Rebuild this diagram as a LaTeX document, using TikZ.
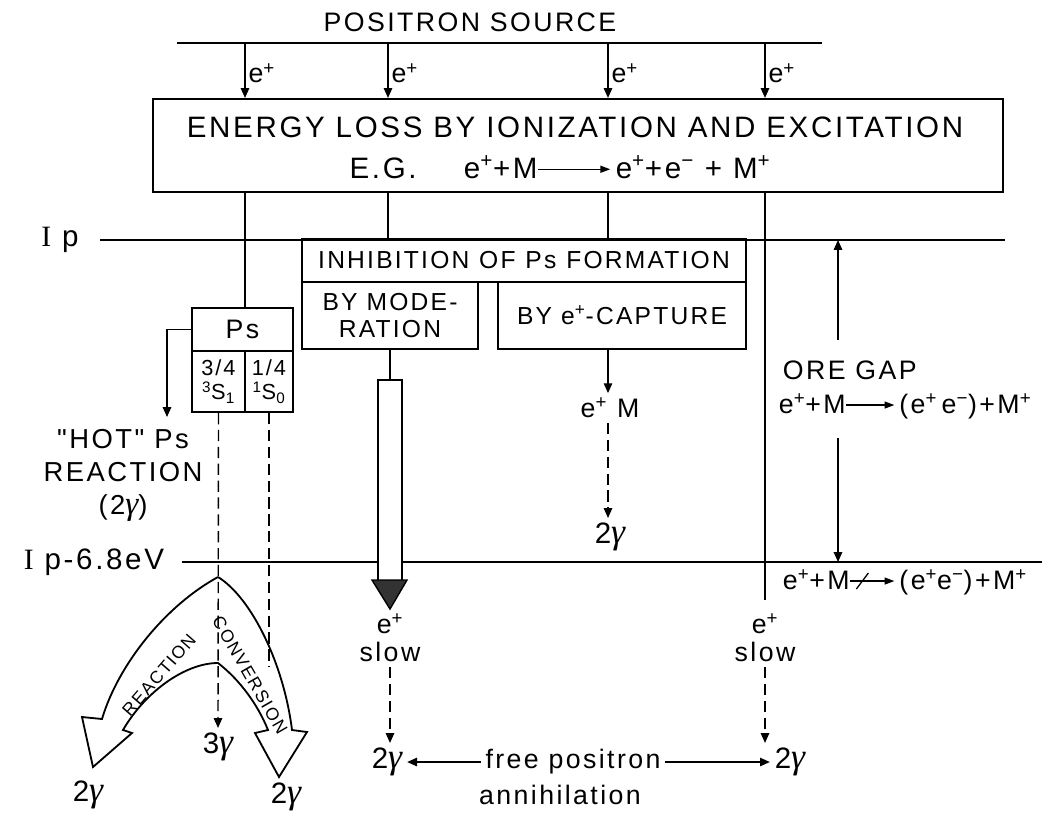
\documentclass[tikz,border=0pt]{standalone}
\usepackage{fontspec}
\setmainfont[LetterSpace=9, Ligatures=TeXOff]{Liberation Sans}
\newfontfamily\serI{Liberation Serif}
\usetikzlibrary{arrows.meta}

\newcommand\posi{e\textsuperscript{+}}
\newcommand\elec{e\textsuperscript{\char"2212}}
\newcommand\gam{{\serI\itshape\addfontfeature{Scale=1.2}γ}}
\newcommand\rxn[1][1.6]{\tikz[baseline={(0,-0.3em)},x=1cm,y=1cm]\draw[line width=0.9pt,-{Triangle[length=7pt,width=5pt]}] (0,0) -- (#1,0);}
\newcommand\norxn[1][1.2]{\tikz[baseline={(0,-0.3em)},x=1cm,y=1cm]{\draw[line width=0.9pt,-{Triangle[length=7pt,width=5pt]}] (0,0) -- (#1,0); \draw[line width=0.9pt] (0.15,-0.2) -- (0.45,0.2);}}

\begin{document}
\begin{tikzpicture}[x=0.025cm, y=-0.025cm,
    box/.style={draw, line width=1.5pt, inner sep=0pt},
    sz/.style 2 args={minimum width={#1*0.025cm}, minimum height={#2*0.025cm}},
    big/.style={font=\fontsize{21}{25}\selectfont},
    mid/.style={font=\fontsize{19}{20}\selectfont, align=center},
    sml/.style={font=\fontsize{17.5}{19.5}\selectfont, align=center},
    cell/.style={font=\fontsize{15.5}{17.5}\selectfont, align=center},
    lab/.style={font=\fontsize{12.5}{15}\selectfont, inner sep=0pt},
    arr/.style={-{Triangle[length=7pt,width=6pt]}, line width=1pt},
    ln/.style={line width=1pt},
    heavy/.style={line width=1.5pt},
    dsh/.style={dash pattern=on 8pt off 4pt}
]
\useasboundingbox (0,0) rectangle (1063,818);

% source and ionization box
\node[mid] (src) at (470,22) {POSITRON SOURCE};
\draw[heavy] (177,43) coordinate (srcL) -- (822,43) coordinate (srcR);
\node[box, sz={850}{93}] (loss) at (578,145.5) {};
\node[big] (lossA) at (575,127) {ENERGY LOSS BY IONIZATION AND EXCITATION};
\node[big] (lossB) at (560,167) {E.G.\hspace{1.6em}\posi+M\rxn[1.8]\,\posi+\elec\ + M\textsuperscript{+}};
\foreach \x/\n in {245/1,388/2,608/3,765/4}{
  \coordinate (s\n) at (\x,43);
  \draw[arr] (s\n) -- node[mid, right, pos=0.55, inner sep=2pt] {\posi} (s\n |- loss.north);
}

% energy levels
\node[big] (ip) at (60,240) {{\serI I} p};
\draw[heavy] (100,240) coordinate (ipL) -- (1005,240) coordinate (ipR);
\node[big] (ip68) at (94,562) {{\serI I} p-6.8eV};
\draw[heavy] (182,562) coordinate (ip68L) -- (1042,562) coordinate (ip68R);

% positronium
\node[box, sz={101}{43}, mid] (ps) at (242.5,329.5) {Ps};
\node[box, sz={53}{61}, cell, inner sep=0pt] (ps3) at (218.5,381.5) {3/4\\\textsuperscript{3}S\textsubscript{1}};
\node[box, sz={48}{61}, cell, inner sep=0pt] (ps1) at (269,381.5) {1/4\\\textsuperscript{1}S\textsubscript{0}};
\draw[ln] (loss.south -| s1) -- (ps.north -| s1);

\node[align=center, font=\fontsize{19.5}{23.5}\selectfont] (hot) at (123,475) {"HOT" Ps\\REACTION\\(2\gam)};
\coordinate (hotin) at (167,417);
\draw[arr] (ps.west) -| (hotin);

\node[big] (g3) at (218,747) {3\gam};
\draw[ln, dsh, arr] (ps3.south) -- (g3.north);
\coordinate (d2end) at (269,667);
\draw[ln, dsh] (ps1.south) -- (d2end);

% bent arrows
\coordinate (apex) at (218,577);
\coordinate (inap) at (218,663);
\draw[line width=1.3pt] (apex) .. controls (165,606) and (118,665) .. (102,719)
  -- (82,717) -- (93,767) -- (132,733) -- (123,730)
  .. controls (145,692) and (185,663) .. (inap)
  .. controls (240,680) and (258,705) .. (268,730)
  -- (255,733) -- (279,777) -- (307,732) -- (292,730)
  .. controls (284,665) and (252,598) .. (apex);
\node[lab, rotate=49] (rea) at (159,675) {REACTION};
\node[lab, rotate=-60] (con) at (250,675) {CONVERSION};
\node[big] (gRea) at (88,795) {2\gam};
\node[big] (gCon) at (286,797) {2\gam};

% inhibition
\node[box, sz={444}{43}, sml] (inh) at (524,260.5) {INHIBITION\hspace{0.4em}OF\hspace{0.4em}Ps\hspace{0.4em}FORMATION};
\node[box, sz={176}{67}, sml] (mod) at (390,315.5) {BY MODE-\\RATION};
\node[box, sz={248}{67}, sml] (cap) at (622,315.5) {BY \posi-CAPTURE};
\draw[ln] (loss.south -| s2) -- (inh.north -| s2);
\draw[ln] (loss.south -| s3) -- (inh.north -| s3);

% moderation: thick arrow
\draw[ln] (mod.south) -- (390,380) coordinate (shT);
\filldraw[ln, fill=white] (378,582) -- (378,380) -- (402,380) -- (402,582);
\filldraw[ln, fill=black!80] (372,580) -- (407,580) -- (390,609) -- cycle;
\node[mid] (slowL) at (390,638) {\posi\\slow};
\node[big] (g2L) at (387,762) {2\gam};
\draw[ln, dsh, arr] (slowL.south) -- (slowL.south |- g2L.north);

% capture
\node[mid] (epm) at (610,408) {\posi\ M};
\draw[arr] (cap.south -| s3) -- (epm.north -| s3);
\node[big] (g2C) at (610,537) {2\gam};
\draw[ln, dsh, arr] (epm.south -| s3) -- (g2C.north -| s3);

% Ore gap
\node[mid, anchor=west] (ore) at (778,370) {ORE GAP};
\node[mid, anchor=west] (orer) at (774,406) {\posi+M\rxn[1.2]\,(\posi\,\elec)+M\textsuperscript{+}};
\coordinate (gT) at (838,240);
\coordinate (gU) at (838,340);
\coordinate (gL) at (838,438);
\coordinate (gB) at (838,562);
\draw[arr] (gU) -- (gT);
\draw[arr] (gL) -- (gB);
\node[mid, anchor=west] (nor) at (778,582) {\posi+M\norxn[1.1]\,(\posi\elec)+M\textsuperscript{+}};

% free positron
\coordinate (r4) at (765,600);
\draw[ln] (loss.south -| s4) -- (r4);
\node[mid] (slowR) at (765,638) {\posi\\slow};
\node[big] (g2R) at (790,762) {2\gam};
\draw[ln, dsh, arr] (slowR.south) -- (slowR.south |- g2R.north);
\node[mid] (free) at (573,762) {free positron};
\node[mid] (anni) at (560,795) {annihilation};
\draw[arr] (free.west) -- (free.west -| g2L.east);
\draw[arr] (free.east) -- (free.east -| g2R.west);
\end{tikzpicture}
\end{document}
